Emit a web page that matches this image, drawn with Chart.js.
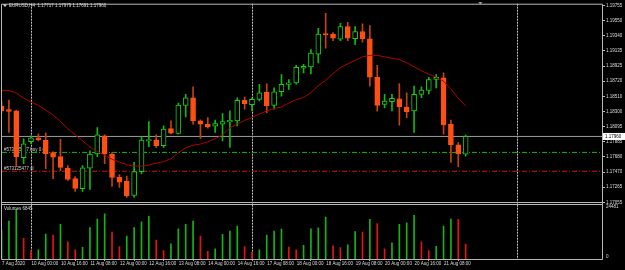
<!DOCTYPE html>
<html>
<head>
<meta charset="utf-8">
<script src="https://cdn.jsdelivr.net/npm/chart.js@4.4.1/dist/chart.umd.min.js"></script>
<style>
html, body { margin: 0; padding: 0; background: #000; overflow: hidden; }
</style>
</head>
<body>
<canvas id="eurusd_h4" width="625" height="270"></canvas>
<script>
// EURUSD H4, 7 Aug 2020 08:00 .. 21 Aug 2020 20:00
var opens = [1.18378, 1.18330, 1.18310, 1.17669, 1.17887, 1.17941, 1.17907, 1.17737, 1.17682, 1.17525,
    1.17382, 1.17242, 1.17523, 1.17719, 1.17969, 1.17719, 1.17400, 1.17348, 1.17150, 1.17478,
    1.17900, 1.17914, 1.17832, 1.18068, 1.18000, 1.18387, 1.18491, 1.18173, 1.18128, 1.18101,
    1.18128, 1.18160, 1.18173, 1.18455, 1.18395, 1.18469, 1.18569, 1.18387, 1.18573, 1.18674,
    1.18695, 1.18896, 1.18914, 1.19091, 1.19373, 1.19364, 1.19295, 1.19469, 1.19301, 1.19400,
    1.19301, 1.18773, 1.18401, 1.18436, 1.18477, 1.18364, 1.18310, 1.18537, 1.18592, 1.18742,
    1.18764, 1.18128, 1.17846, 1.17717];
var highs = [1.18446, 1.18460, 1.18323, 1.17928, 1.17969, 1.17996, 1.18010, 1.17750, 1.17921, 1.17560,
    1.17410, 1.17560, 1.17764, 1.18082, 1.17982, 1.17737, 1.17437, 1.17416, 1.17605, 1.17955,
    1.18164, 1.17982, 1.18105, 1.18173, 1.18419, 1.18537, 1.18641, 1.18187, 1.18218, 1.18183,
    1.18273, 1.18310, 1.18491, 1.18500, 1.18487, 1.18674, 1.18682, 1.18627, 1.18810, 1.18742,
    1.18937, 1.18950, 1.19151, 1.19445, 1.19650, 1.19387, 1.19514, 1.19527, 1.19469, 1.19505,
    1.19482, 1.18937, 1.18537, 1.18537, 1.18687, 1.18559, 1.18650, 1.18641, 1.18773, 1.18810,
    1.18832, 1.18183, 1.17877, 1.17979];
var lows = [1.18282, 1.18014, 1.17546, 1.17587, 1.17860, 1.17900, 1.17519, 1.17382, 1.17491, 1.17355,
    1.17205, 1.17205, 1.17232, 1.17682, 1.17587, 1.17273, 1.17260, 1.17123, 1.17127, 1.17444,
    1.17819, 1.17805, 1.17805, 1.17996, 1.17996, 1.18228, 1.18128, 1.17932, 1.18074, 1.18014,
    1.17900, 1.17809, 1.18105, 1.18333, 1.18310, 1.18446, 1.18286, 1.18333, 1.18514, 1.18606,
    1.18678, 1.18832, 1.18818, 1.18968, 1.19173, 1.19274, 1.19274, 1.19274, 1.19219, 1.19255,
    1.18650, 1.18306, 1.18355, 1.18310, 1.18115, 1.18218, 1.18014, 1.18491, 1.18545, 1.18627,
    1.17992, 1.17605, 1.17546, 1.17691];
var closes = [1.18310, 1.18303, 1.17682, 1.17860, 1.17941, 1.17914, 1.17723, 1.17675, 1.17536, 1.17369,
    1.17246, 1.17528, 1.17719, 1.17982, 1.17719, 1.17396, 1.17332, 1.17144, 1.17478, 1.17910,
    1.17918, 1.17832, 1.18060, 1.18006, 1.18391, 1.18491, 1.18173, 1.18128, 1.18095, 1.18136,
    1.18164, 1.18180, 1.18455, 1.18409, 1.18469, 1.18559, 1.18378, 1.18573, 1.18674, 1.18695,
    1.18910, 1.18923, 1.19105, 1.19364, 1.19355, 1.19309, 1.19469, 1.19309, 1.19400, 1.19301,
    1.18773, 1.18387, 1.18446, 1.18483, 1.18364, 1.18300, 1.18537, 1.18596, 1.18742, 1.18773,
    1.18119, 1.17846, 1.17719, 1.17960];
var maValues = [1.18592, 1.18592, 1.18555, 1.18487, 1.18432, 1.18385, 1.18323, 1.18255, 1.18166, 1.18064,
    1.17982, 1.17900, 1.17812, 1.17757, 1.17703, 1.17648, 1.17607, 1.17573, 1.17553, 1.17553,
    1.17566, 1.17594, 1.17614, 1.17655, 1.17737, 1.17805, 1.17839, 1.17856, 1.17887, 1.17928,
    1.17982, 1.18078, 1.18132, 1.18180, 1.18221, 1.18269, 1.18310, 1.18344, 1.18364, 1.18419,
    1.18466, 1.18494, 1.18562, 1.18657, 1.18732, 1.18821, 1.18903, 1.18957, 1.19005, 1.19053,
    1.19073, 1.19073, 1.19053, 1.19032, 1.19015, 1.18971, 1.18916, 1.18862, 1.18814, 1.18773,
    1.18719, 1.18610, 1.18487, 1.18378];
var volumes = [13200, 17300, 22700, 9500, 3900, 4200, 11400, 10900, 15800, 7800,
    4200, 5300, 14400, 18200, 20700, 12300, 5700, 10500, 14400, 17000,
    19500, 8700, 3900, 6900, 13800, 15900, 17300, 10500, 3500, 4650,
    11250, 12750, 15000, 5700, 3150, 4200, 10950, 12750, 13650, 5400,
    4200, 6300, 13800, 14250, 19200, 6000, 5250, 6450, 12500, 12300,
    18150, 16200, 4650, 7350, 15900, 16500, 19950, 7800, 3900, 5850,
    15000, 18300, 18100, 6845];

var priceTicks = [1.19755, 1.19550, 1.19340, 1.19135, 1.18925, 1.18720, 1.18510,
    1.18300, 1.18095, 1.17885, 1.17680, 1.17470, 1.17265, 1.17055];
var volumeTicks = [0, 24481];
var timeTickIdx = [0, 4, 8, 12, 16, 20, 24, 28, 32, 36, 40, 44, 48, 52, 56, 60];
var timeTickLabels = ['7 Aug 2020', '10 Aug 00:00', '10 Aug 16:00', '11 Aug 08:00', '12 Aug 00:00',
    '12 Aug 16:00', '13 Aug 08:00', '14 Aug 00:00', '14 Aug 16:00', '17 Aug 08:00', '18 Aug 00:00',
    '18 Aug 16:00', '19 Aug 08:00', '20 Aug 00:00', '20 Aug 16:00', '21 Aug 08:00'];
var separatorIdx = [4, 34, 70];
var levels = [1.17960, 1.17741, 1.17482];   // bid line, buy order, stop loss
var orderLabels = ['#573125477 buy 0.01', '#573125477 sl'];
var symbolTitle = 'EURUSD,H4  1.17717 1.17979 1.17691 1.17960';
var volumeName = 'Volumes 6845';

var X_MIN = 0.064, X_MAX = 81.51;
var Y_TOP = 1.197822, Y_BOTTOM = 1.162778;
var VOL_MAX = 116727;

var UP = '#16d016', UP_WICK = '#12b812', DOWN = '#ff4f12', DOWN_WICK = '#c4420e';
var TXT = '#dcdcdc', FRAME = '#b8b8b8';
var FONT = '"Liberation Sans", Arial, sans-serif';

var isUp = closes.map(function (c, i) { return c >= opens[i]; });

var bodies = opens.map(function (o, i) { return { x: i, y: [o, closes[i]] }; });
var wicks = lows.map(function (l, i) { return { x: i, y: [l, highs[i]] }; });
var ma = maValues.map(function (v, i) { return { x: i, y: v }; });
var vols = volumes.map(function (v, i) { return { x: i, y: v }; });
var volColors = volumes.map(function (v, i) {
    return (i === 0 || v > volumes[i - 1]) ? '#14b414' : '#e61212';
});

var levelColors = ['#9c9c9c', '#18b418', '#cc1414'];
var levelDash = [[], [5, 2, 1, 2], [5, 2, 1, 2]];
var levelSets = levels.map(function (lv, k) {
    return {
        type: 'line',
        data: [{ x: X_MIN, y: lv }, { x: X_MAX, y: lv }],
        yAxisID: 'y',
        borderColor: levelColors[k],
        borderWidth: 1,
        borderDash: levelDash[k],
        pointRadius: 0
    };
});

var mt4Decor = {
    id: 'mt4Decor',
    beforeDatasetsDraw: function (chart) {
        var ctx = chart.ctx, area = chart.chartArea;
        var xs = chart.scales.x, ys = chart.scales.y;
        ctx.save();
        ctx.strokeStyle = '#c4c4c4';
        ctx.lineWidth = 1;
        ctx.setLineDash([2, 1]);
        separatorIdx.forEach(function (i) {
            var x = Math.round(xs.getPixelForValue(i)) + 0.5;
            ctx.beginPath();
            ctx.moveTo(x, area.top);
            ctx.lineTo(x, area.bottom);
            ctx.stroke();
        });
        ctx.setLineDash([]);
        ctx.font = '4.5px ' + FONT;
        ctx.fillStyle = '#d0d0d0';
        ctx.textBaseline = 'bottom';
        ctx.textAlign = 'left';
        ctx.fillText(orderLabels[0], 4, ys.getPixelForValue(levels[1]));
        ctx.fillText(orderLabels[1], 4, ys.getPixelForValue(levels[2]));
        ctx.restore();
    },
    afterDraw: function (chart) {
        var ctx = chart.ctx, area = chart.chartArea;
        var ys = chart.scales.y, yv = chart.scales.yv, xs = chart.scales.x;
        var L = area.left - 0.5, R = Math.round(area.right) + 0.5;
        var T = area.top + 0.5, B = Math.round(area.bottom) + 0.5;
        var volTop = Math.round(yv.getPixelForValue(volumeTicks[1]));
        ctx.save();
        ctx.strokeStyle = FRAME;
        ctx.lineWidth = 1;
        ctx.beginPath();
        ctx.moveTo(L, T); ctx.lineTo(R, T);
        ctx.moveTo(L, T); ctx.lineTo(L, B);
        ctx.moveTo(R, T); ctx.lineTo(R, B);
        ctx.moveTo(L, B); ctx.lineTo(R, B);
        ctx.moveTo(L, volTop - 2.5); ctx.lineTo(R, volTop - 2.5);
        ctx.moveTo(L, volTop - 0.5); ctx.lineTo(R, volTop - 0.5);
        ctx.stroke();

        // shift marker
        var sx = xs.getPixelForValue(65);
        ctx.fillStyle = '#8898a8';
        ctx.beginPath();
        ctx.moveTo(sx - 2, 2); ctx.lineTo(sx + 2, 2); ctx.lineTo(sx, 5);
        ctx.closePath(); ctx.fill();

        ctx.font = '4.5px ' + FONT;
        ctx.textAlign = 'left';
        ctx.textBaseline = 'middle';
        ctx.fillStyle = TXT;
        ctx.beginPath();
        ctx.moveTo(3, 4.5); ctx.lineTo(7, 4.5); ctx.lineTo(5, 7);
        ctx.closePath(); ctx.fill();
        ctx.fillText(symbolTitle, 9, 5.5);
        ctx.fillText(volumeName, 4, volTop + 3.5);

        ctx.textBaseline = 'top';
        ctx.fillText(String(volumeTicks[1]), area.right + 4, volTop);
        ctx.textBaseline = 'bottom';
        ctx.fillText(String(volumeTicks[0]), area.right + 4, yv.getPixelForValue(volumeTicks[0]));

        // current price tag
        var py = ys.getPixelForValue(closes[closes.length - 1]);
        ctx.fillStyle = '#ffffff';
        ctx.fillRect(area.right + 1, py - 3.5, 22, 7);
        ctx.fillStyle = '#000000';
        ctx.textBaseline = 'middle';
        ctx.fillText(closes[closes.length - 1].toFixed(5), area.right + 3, py);
        ctx.restore();
    }
};

var ctx = document.getElementById('eurusd_h4').getContext('2d');
var chart = new Chart(ctx, {
    type: 'bar',
    data: {
        datasets: [{
            type: 'line',
            data: ma,
            yAxisID: 'y',
            borderColor: '#b00000',
            borderWidth: 1,
            pointRadius: 0,
            tension: 0
        }, {
            data: bodies,
            yAxisID: 'y',
            grouped: false,
            barThickness: 5,
            minBarLength: 1,
            borderWidth: 1,
            borderSkipped: false,
            backgroundColor: isUp.map(function (u) { return u ? '#000000' : DOWN; }),
            borderColor: isUp.map(function (u) { return u ? UP : DOWN; })
        }, {
            data: wicks,
            yAxisID: 'y',
            grouped: false,
            barThickness: 1,
            borderWidth: 0,
            backgroundColor: isUp.map(function (u) { return u ? UP_WICK : DOWN_WICK; })
        }].concat(levelSets).concat([{
            data: vols,
            yAxisID: 'yv',
            grouped: false,
            barThickness: 1,
            borderWidth: 0,
            backgroundColor: volColors
        }])
    },
    options: {
        responsive: false,
        animation: false,
        layout: { padding: { left: 2, top: 2, right: 0, bottom: 0 } },
        plugins: {
            legend: { display: false },
            tooltip: { enabled: false }
        },
        scales: {
            x: {
                type: 'linear',
                min: X_MIN,
                max: X_MAX,
                offset: false,
                border: { display: false },
                grid: { display: true, drawOnChartArea: false, drawTicks: true, tickLength: 2, color: FRAME },
                afterBuildTicks: function (scale) {
                    scale.ticks = timeTickIdx.map(function (v) { return { value: v }; });
                },
                afterFit: function (scale) { scale.height = 11; },
                ticks: {
                    autoSkip: false,
                    maxRotation: 0,
                    align: 'start',
                    labelOffset: 0.5,
                    padding: 0,
                    color: TXT,
                    font: { family: FONT, size: 4.5 },
                    callback: function (v) {
                        var k = timeTickIdx.indexOf(v);
                        return k >= 0 ? timeTickLabels[k] : '';
                    }
                }
            },
            y: {
                type: 'linear',
                position: 'right',
                min: Y_BOTTOM,
                max: Y_TOP,
                border: { display: false },
                grid: { display: true, drawOnChartArea: false, drawTicks: true, tickLength: 3, color: FRAME },
                afterBuildTicks: function (scale) {
                    scale.ticks = priceTicks.map(function (v) { return { value: v }; });
                },
                afterFit: function (scale) { scale.width = 23; },
                ticks: {
                    autoSkip: false,
                    padding: 1,
                    color: TXT,
                    font: { family: FONT, size: 4.5 },
                    callback: function (v) { return v.toFixed(5); }
                }
            },
            yv: {
                type: 'linear',
                display: false,
                min: 0,
                max: VOL_MAX
            }
        }
    },
    plugins: [mt4Decor]
});
</script>
</body>
</html>
